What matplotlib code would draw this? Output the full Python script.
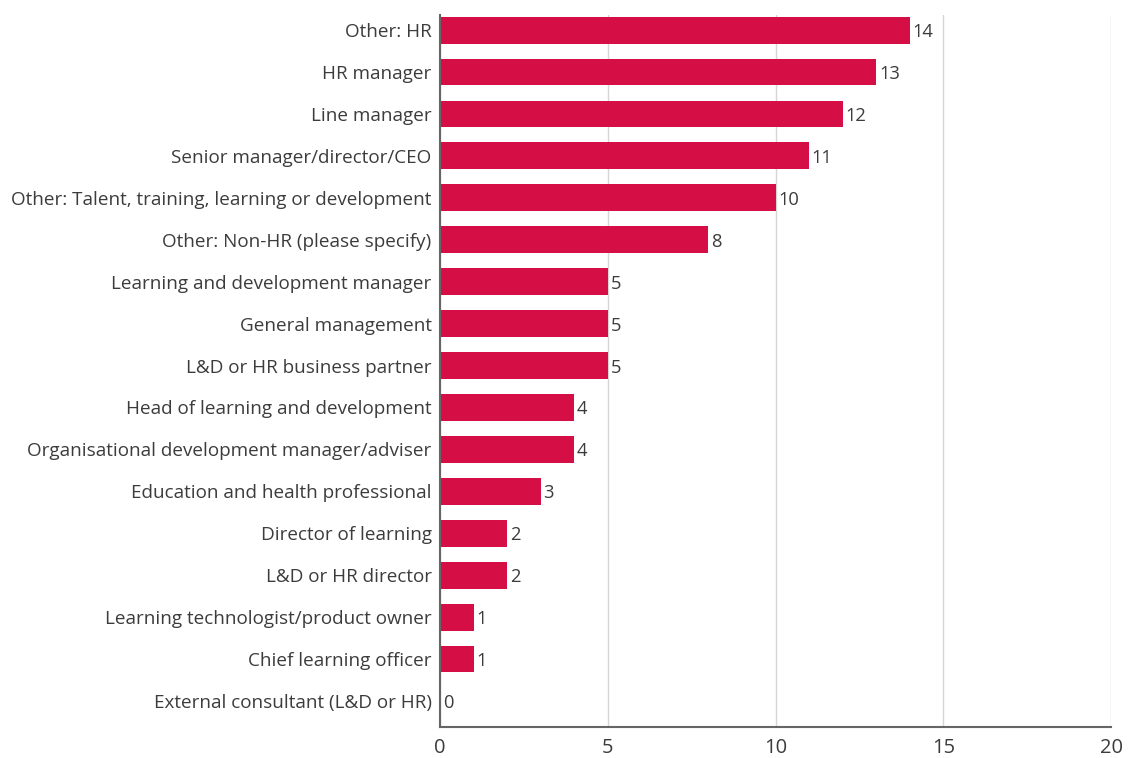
import matplotlib.pyplot as plt

categories = [
    "Other: HR",
    "HR manager",
    "Line manager",
    "Senior manager/director/CEO",
    "Other: Talent, training, learning or development",
    "Other: Non-HR (please specify)",
    "Learning and development manager",
    "General management",
    "L&D or HR business partner",
    "Head of learning and development",
    "Organisational development manager/adviser",
    "Education and health professional",
    "Director of learning",
    "L&D or HR director",
    "Learning technologist/product owner",
    "Chief learning officer",
    "External consultant (L&D or HR)",
]
values = [14, 13, 12, 11, 10, 8, 5, 5, 5, 4, 4, 3, 2, 2, 1, 1, 0]
xticks = [0, 5, 10, 15, 20]

plt.rcParams['font.family'] = ['Open Sans', 'DejaVu Sans']

fig = plt.figure(figsize=(11.32, 7.58), dpi=100)
ax = fig.add_axes([0.3887, 0.0409, 0.5928, 0.9393])

pos = list(range(len(categories)))
ax.barh(pos, values, height=0.64, color='#d50f45', zorder=2)
for y, v in zip(pos, values):
    ax.text(v + 0.08, y, str(v), va='center_baseline', ha='left', fontsize=13.2, color='#3c3c3c')

ax.set_yticks(pos)
ax.set_yticklabels(categories, fontsize=13.6, color='#3c3c3c')
for lbl in ax.get_yticklabels():
    lbl.set_verticalalignment('center_baseline')
ax.set_ylim(16.62, -0.36)
ax.set_xlim(0, 20)
ax.set_xticks(xticks)
ax.set_xticklabels([str(t) for t in xticks], fontsize=14.5, color='#3c3c3c')
ax.tick_params(axis='both', length=0)
ax.tick_params(axis='y', pad=6)
ax.tick_params(axis='x', pad=8)

ax.grid(axis='x', color='#d6d6d6', linewidth=1, zorder=0)
for s in ['top', 'right']:
    ax.spines[s].set_visible(False)
for s in ['left', 'bottom']:
    ax.spines[s].set_color('#666666')
    ax.spines[s].set_linewidth(1.5)
    ax.spines[s].set_zorder(3)

fig.savefig('out.png', dpi=100)
